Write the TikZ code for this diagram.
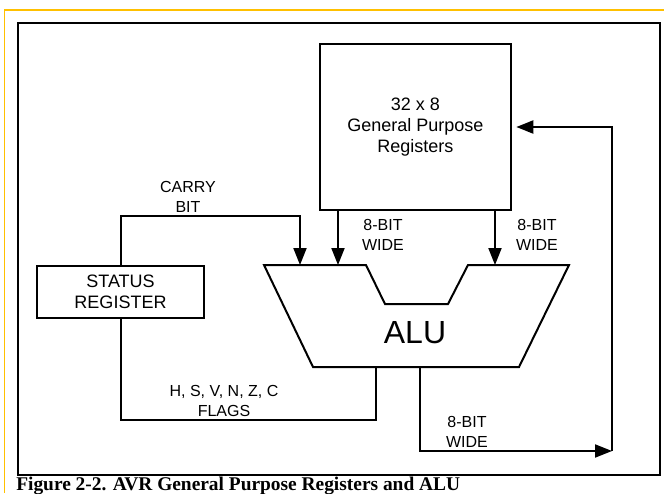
\documentclass[tikz,border=0pt]{standalone}
\usepackage{fontspec}
\setmainfont{Liberation Sans}
\newfontfamily\capfont{Liberation Serif}
\usetikzlibrary{arrows.meta}
\definecolor{amberline}{RGB}{255,192,0}
\begin{document}
\begin{tikzpicture}[x=0.75pt,y=-0.75pt,
  wire/.style={line width=1.5pt},
  arr/.style={wire,-{Triangle[length=12.75pt,width=9.75pt]}},
  box/.style={draw,line width=1.5pt,inner sep=0pt,align=center,font=\fontsize{13.5}{15.75}\selectfont},
  lbl/.style={inner sep=0pt,align=center,font=\fontsize{12}{15}\selectfont}]
\useasboundingbox (0,0) rectangle (664,493);
\draw[line width=1.1pt, color=amberline] (4.7,493) -- (4.7,9.8) -- (664,9.8);
\draw[line width=1.5pt] (18,23) rectangle (659.5,475);
\node[box,minimum width=143pt,minimum height=124.5pt] (gpr) at (415.3,127) {32 x 8\\General Purpose\\Registers};
\node[box,minimum width=125.25pt,minimum height=39pt] (sr) at (120.5,292) {STATUS\\REGISTER};
\draw[line width=1.5pt, line join=miter] (264,265) -- (366,265) -- (385,304) -- (448,304) -- (468,265) -- (569,265) -- (519,367) -- (313,367) -- cycle;
\node[inner sep=0pt,font=\fontsize{24}{24}\selectfont] (alu) at (415,333) {ALU};
\coordinate (aluC) at (300,265);
\coordinate (aluA) at (338,265);
\coordinate (aluB) at (495,265);
\coordinate (aluF) at (376,367);
\coordinate (aluO) at (420,367);
\coordinate (loop) at (612,451);
\coordinate (cb) at (120.5,216);
\coordinate (fc) at (120.5,420);
\draw[arr] (sr.north) -- (cb) -| (aluC);
\draw[wire] (sr.south) -- (fc) -| (aluF);
\draw[arr] (gpr.south -| aluA) -- (aluA);
\draw[arr] (gpr.south -| aluB) -- (aluB);
\draw[arr] (aluO) |- (loop);
\draw[arr,shorten >=3.5pt] (loop) |- (gpr.east);
\node[lbl] (carry) at (188,196.5) {CARRY\\BIT};
\node[lbl] (w1) at (383,235) {8-BIT\\WIDE};
\node[lbl] (w2) at (537,235) {8-BIT\\WIDE};
\node[lbl] (flags) at (224,401) {H, S, V, N, Z, C\\FLAGS};
\node[lbl] (w3) at (467,432) {8-BIT\\WIDE};
\node[anchor=base west,inner sep=0pt,font=\capfont\bfseries\fontsize{14.55}{16}\selectfont] (cap) at (16,490.5) {Figure 2-2. AVR General Purpose Registers and ALU};
\end{tikzpicture}
\end{document}
